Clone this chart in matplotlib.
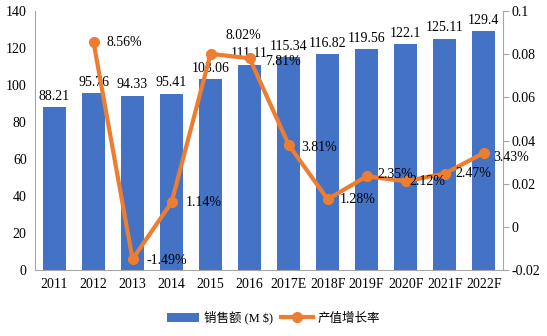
import numpy as np
import matplotlib.pyplot as plt

plt.rcParams['font.family'] = ['Liberation Serif', 'Noto Sans CJK SC']

years = ["2011", "2012", "2013", "2014", "2015", "2016", "2017E",
         "2018F", "2019F", "2020F", "2021F", "2022F"]
sales = [88.21, 95.76, 94.33, 95.41, 103.06, 111.11, 115.34,
         116.82, 119.56, 122.1, 125.11, 129.4]
growth_years = years[1:]
growth = [8.56, -1.49, 1.14, 8.02, 7.81, 3.81, 1.28, 2.35, 2.12, 2.47, 3.43]

# label offsets in points (dx, dy) for the growth labels
growth_offsets = [(9, 0), (10, -1), (10, 0), (11, 13), (11, -2), (9, -2),
                  (9, 0), (8, 1), (3, 0), (8, 0), (7, -3)]

bar_color = "#4472C4"
line_color = "#ED7D31"
grey = "#A6A6A6"
fs = 10

fig = plt.figure(figsize=(5.47, 3.36), dpi=100)
ax = fig.add_axes([0.064, 0.196, 0.856, 0.771])
x = np.arange(len(years))

bars = ax.bar(x, sales, width=0.58, color=bar_color, zorder=2)
for xi, v in zip(x, sales):
    ax.annotate(f"{v:g}", (xi, v), xytext=(0, 3), textcoords="offset points",
                ha="center", va="bottom", fontsize=fs)

ax.set_ylim(0, 140)
ax.set_yticks(range(0, 141, 20))
ax.set_xlim(-0.5, len(years) - 0.5)
ax.set_xticks(x)
ax.set_xticklabels(years)
ax.tick_params(axis="both", labelsize=fs, length=0, pad=6)
for side in ["top", "right"]:
    ax.spines[side].set_visible(False)
for side in ["left", "bottom"]:
    ax.spines[side].set_color(grey)

ax2 = ax.twinx()
gx = x[1:]
gv = np.array(growth) / 100
line, = ax2.plot(gx, gv, color=line_color, linewidth=3, marker="o",
                 markersize=7, zorder=3)
for xi, v, txt, off in zip(gx, gv, growth, growth_offsets):
    ax2.annotate(f"{txt:.2f}%", (xi, v), xytext=off,
                 textcoords="offset points", ha="left", va="center",
                 fontsize=fs)
ax2.set_ylim(-0.02, 0.1)
ax2.set_yticks([-0.02, 0, 0.02, 0.04, 0.06, 0.08, 0.1])
ax2.set_yticklabels(["-0.02", "0", "0.02", "0.04", "0.06", "0.08", "0.1"])
ax2.tick_params(axis="y", labelsize=fs, length=4, color=grey, pad=2)
for side in ["top", "left", "bottom"]:
    ax2.spines[side].set_visible(False)
ax2.spines["right"].set_color(grey)

fig.legend([bars, line], ["销售额 (M $)", "产值增长率"], loc="lower center",
           bbox_to_anchor=(0.5, 0.0), ncol=2, frameon=False, fontsize=9,
           handlelength=2.6, handletextpad=0.4, columnspacing=0.6)

fig.savefig("out.png", dpi=100)
